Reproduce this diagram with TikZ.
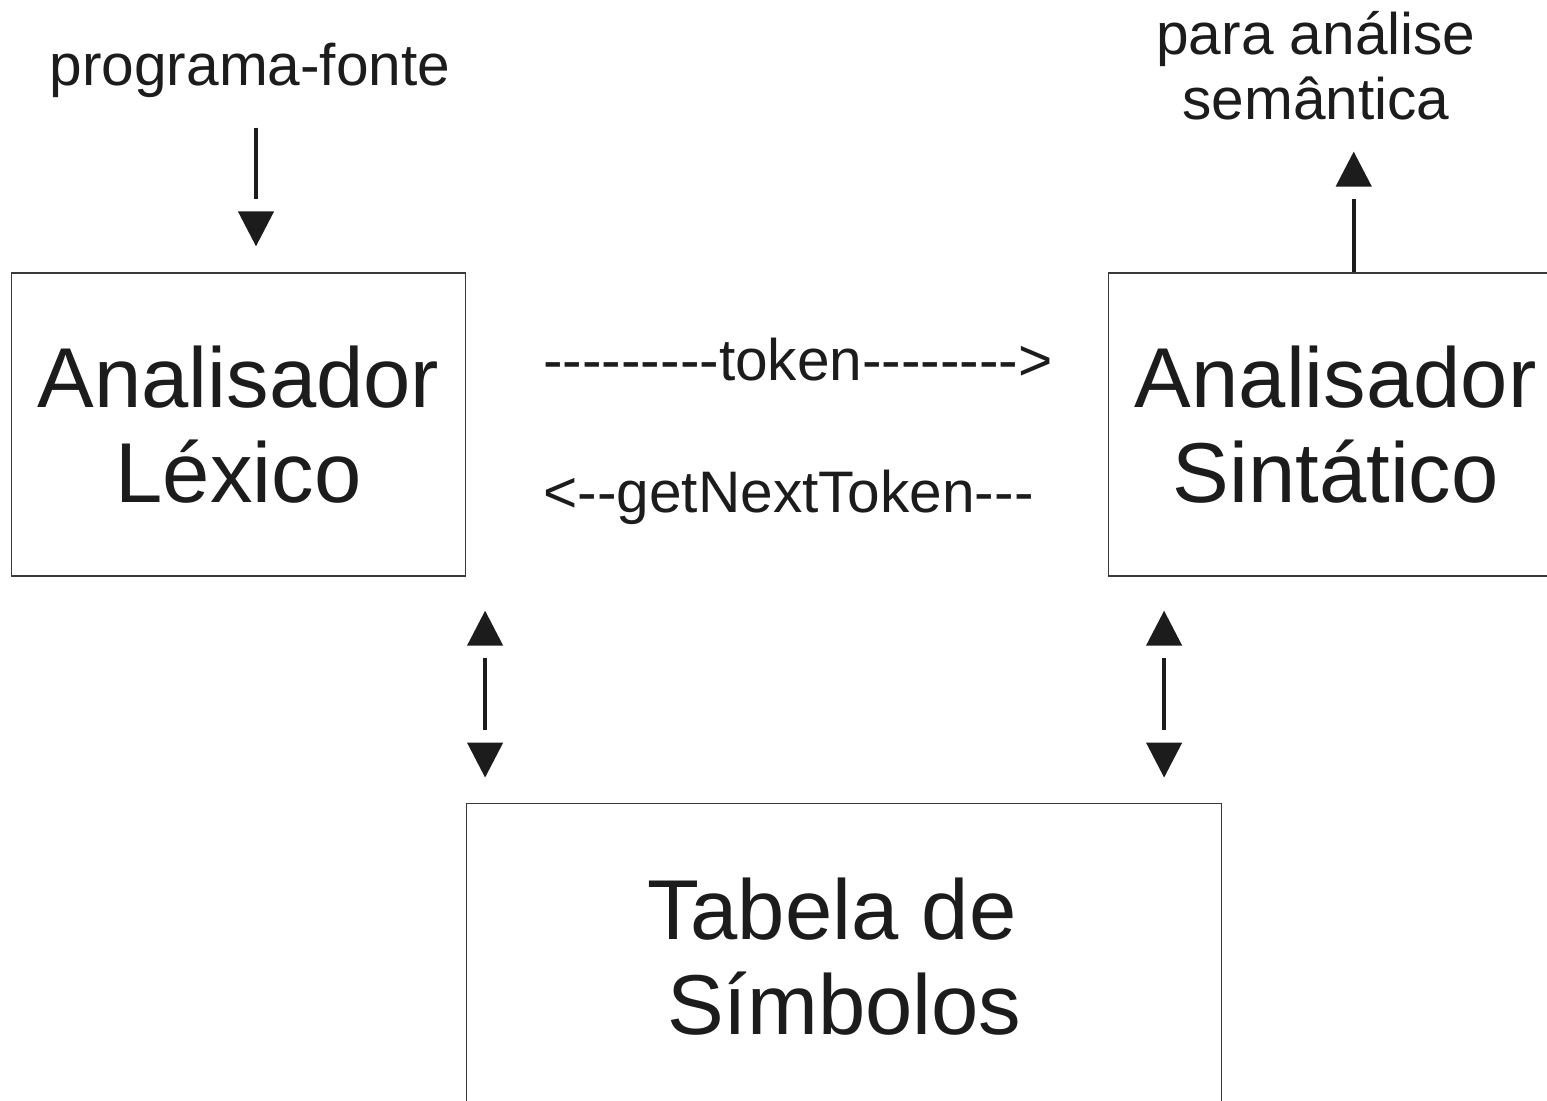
\documentclass[tikz,border=0pt]{standalone}
\usepackage{fontspec}
\setmainfont{Liberation Sans}[Ligatures=TeXOff]
\usepackage{xcolor}
\usepackage{tikz}
\usetikzlibrary{arrows.meta, positioning}
\definecolor{Tinta}{HTML}{1C1C1C}
\definecolor{Borda}{HTML}{3A3A3A}
\tikzset{
  caixa/.style={draw=Borda, line width=0.6pt, rectangle, inner sep=0pt,
                minimum width=227pt, minimum height=151.5pt, align=center,
                text=Tinta, font=\fontsize{42.5}{47.5}\selectfont},
  rotulo/.style={inner sep=0pt, align=center, text=Tinta,
                 font=\fontsize{29.3}{32.5}\selectfont},
  seta/.style={-{Bar[width=0pt, sep=4.5pt] . Triangle[length=17.5pt, width=17.5pt]},
               line width=2.2pt, draw=Tinta, fill=Tinta},
  setadupla/.style={{Triangle[length=17.5pt, width=17.5pt] . Bar[width=0pt, sep=4.5pt]}-{Bar[width=0pt, sep=4.5pt] . Triangle[length=17.5pt, width=17.5pt]},
                    line width=2.2pt, draw=Tinta, fill=Tinta}
}
\begin{document}
\begin{tikzpicture}[x=0.5pt, y=-0.5pt]
  \useasboundingbox (0,0) rectangle (1547,1100);
  \clip (0,0) rectangle (1547,1100);
  \node[caixa] at (238.5,424.5)                 (lexico)    {Analisador\\Léxico};
  \node[caixa, right=321pt of lexico]           (sintatico) {Analisador\\Sintático};
  \node[caixa, minimum width=377.5pt, minimum height=153pt,
        below right=113pt and 0pt of lexico]    (tabela)    {Tabela de\kern.28em\\Símbolos};

  \node[rotulo, anchor=base] at (250,85)        (fonte)     {programa-fonte};
  \node[rotulo, anchor=north] at (1316,11)      (semantica) {para análise\\semântica};
  \node[rotulo, anchor=base west] at (543,380)  (token)     {---------token-------->};
  \node[rotulo, anchor=base west] at (543,512)  (proximo)   {<--getNextToken---};

  \draw[seta, shorten <=15pt, shorten >=13pt] ([xshift=3pt]fonte.south) -- ([xshift=8.75pt]lexico.north);
  \draw[seta, shorten >=15.5pt] ([xshift=9pt]sintatico.north) -- ([xshift=9pt]sintatico.north |- semantica.south);
  \draw[setadupla, shorten <=17pt, shorten >=12.5pt] ([xshift=9.5pt]lexico.south east) -- ([xshift=9.5pt]lexico.south east |- tabela.north);
  \draw[setadupla, shorten <=17pt, shorten >=12.5pt] ([xshift=28pt]sintatico.south west) -- ([xshift=28pt]sintatico.south west |- tabela.north);
\end{tikzpicture}
\end{document}
